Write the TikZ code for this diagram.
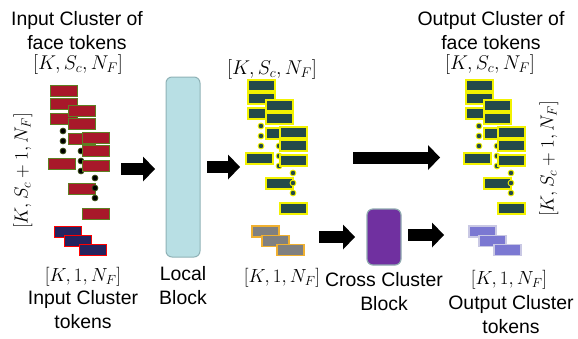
\RequirePackage{fix-cm}
\documentclass[tikz,border=0pt]{standalone}
\usepackage[no-math]{fontspec}
\setmainfont{Liberation Sans}
\usetikzlibrary{arrows.meta}

\definecolor{tokred}{HTML}{A8182A}
\definecolor{tokgreen}{HTML}{5E7F22}
\definecolor{toknavy}{HTML}{25245F}
\definecolor{tokteal}{HTML}{244A4A}
\definecolor{tokyellow}{HTML}{F2F200}
\definecolor{tokgray}{HTML}{808080}
\definecolor{tokorange}{HTML}{F0B030}
\definecolor{tokviolet}{HTML}{7B78D2}
\definecolor{tokviolee}{HTML}{C9C8E4}
\definecolor{localfill}{HTML}{B8DFE4}
\definecolor{localedge}{HTML}{8FB2B6}
\definecolor{crossfill}{HTML}{7030A0}
\definecolor{crossedge}{HTML}{8EA9AF}

\tikzset{
  lbl/.style={inner sep=0pt, align=center, font=\fontsize{19.5}{24}\selectfont},
  mlbl/.style={inner sep=0pt, font=\fontsize{20}{24}\selectfont},
  slbl/.style={inner sep=0pt, font=\fontsize{19}{23}\selectfont},
  redtok/.style={draw=tokgreen, line width=1bp, fill=tokred},
  reddot/.style={draw=tokgreen!60!black, line width=0.8bp, fill=black},
  navytok/.style={draw=red, line width=1bp, fill=toknavy},
  tealtok/.style={draw=tokyellow, line width=1.2bp, fill=tokteal},
  tealdot/.style={draw=tokyellow, line width=0.9bp, fill=tokteal},
  graytok/.style={draw=tokorange, line width=1.1bp, fill=tokgray},
  violettok/.style={draw=tokviolee, line width=1.1bp, fill=tokviolet},
  localblock/.style={draw=localedge, line width=1bp, fill=localfill,
    rounded corners=6bp, minimum width=34bp, minimum height=180bp, inner sep=0pt},
  crossblock/.style={draw=crossedge, line width=1.2bp, fill=crossfill,
    rounded corners=6bp, minimum width=34bp, minimum height=56bp, inner sep=0pt},
  blockarrow/.style={line width=12bp, draw=black,
    -{Triangle[length=12bp, width=25bp, line width=0pt]}},
}

% three staggered columns of face tokens, each with three tokens, a
% vertical ellipsis and a final token; #1,#2 = top-left of first column
\newcommand\facecluster[4]{%
  \foreach \cx/\cy/\lx/\ly in {0/0/-2/73, 18/20/0/78, 32/47/0/76}{
    \foreach \ty in {0,13,28}
      \draw[#3] ({#1+\cx},{#2+\cy+\ty}) rectangle ++(27,11);
    \foreach \dy in {46,56,66}
      \draw[#4] ({#1+\cx+13},{#2+\cy+\dy}) circle[radius=2.9bp];
    \draw[#3] ({#1+\cx+\lx},{#2+\cy+\ly}) rectangle ++(27,11);
  }}

% three staggered cluster tokens; #1,#2 = top-left of first token
\newcommand\clustertokens[3]{%
  \foreach \tx/\ty in {0/0, 10/9.5, 25/18.5}
    \draw[#3] ({#1+\tx},{#2+\ty}) rectangle ++(27,11);}

\begin{document}
\begin{tikzpicture}[x=1bp, y=-1bp]
\useasboundingbox (0,0) rectangle (578,338);

% input side
\node[lbl] (inTitle) at (77,30.5) {Input Cluster of\\face tokens};
\node[mlbl] (inShape) at (78,65) {$[K,S_c,N_F]$};
\node[slbl, rotate=90] (inSide) at (23,171) {$[K,S_c+1,N_F]$};
\facecluster{50}{85}{redtok}{reddot}
\clustertokens{54}{226}{navytok}
\node[slbl] (inTokShape) at (83,277) {$[K,1,N_F]$};
\node[lbl] (inTokTitle) at (83,310) {Input Cluster\\tokens};

% local block
\node[localblock] (local) at (183,167) {};
\node[lbl] (localLbl) at (183,285.5) {Local\\Block};

% after the local block
\node[mlbl] (midShape) at (272,70) {$[K,S_c,N_F]$};
\facecluster{248}{80}{tealtok}{tealdot}
\clustertokens{252}{226}{graytok}
\node[slbl] (midTokShape) at (282,278) {$[K,1,N_F]$};

% cross cluster block
\node[crossblock] (cross) at (384,237) {};
\node[lbl] (crossLbl) at (384,291.5) {Cross Cluster\\Block};

% output side
\node[lbl] (outTitle) at (491,30.5) {Output Cluster of\\face tokens};
\node[mlbl] (outShape) at (490,65) {$[K,S_c,N_F]$};
\node[slbl, rotate=90] (outSide) at (549,159) {$[K,S_c+1,N_F]$};
\facecluster{466}{80}{tealtok}{tealdot}
\clustertokens{469}{226}{violettok}
\node[slbl] (outTokShape) at (509,280) {$[K,1,N_F]$};
\node[lbl] (outTokTitle) at (511,315) {Output Cluster\\tokens};

% block arrows
\coordinate (inClusterR) at (121,169);
\coordinate (localInR) at (155,169);
\coordinate (localOutL) at (207,167);
\coordinate (midClusterL) at (240,167);
\coordinate (midClusterR) at (353,157.5);
\coordinate (outClusterL) at (440,157.5);
\coordinate (grayTokR) at (319,237);
\coordinate (crossInL) at (355,237);
\coordinate (crossOutR) at (408,235);
\coordinate (outTokL) at (444,235);
\draw[blockarrow] (inClusterR) -- (localInR);
\draw[blockarrow] (localOutL) -- (midClusterL);
\draw[blockarrow] (midClusterR) -- (outClusterL);
\draw[blockarrow] (grayTokR) -- (crossInL);
\draw[blockarrow] (crossOutR) -- (outTokL);
\end{tikzpicture}
\end{document}
